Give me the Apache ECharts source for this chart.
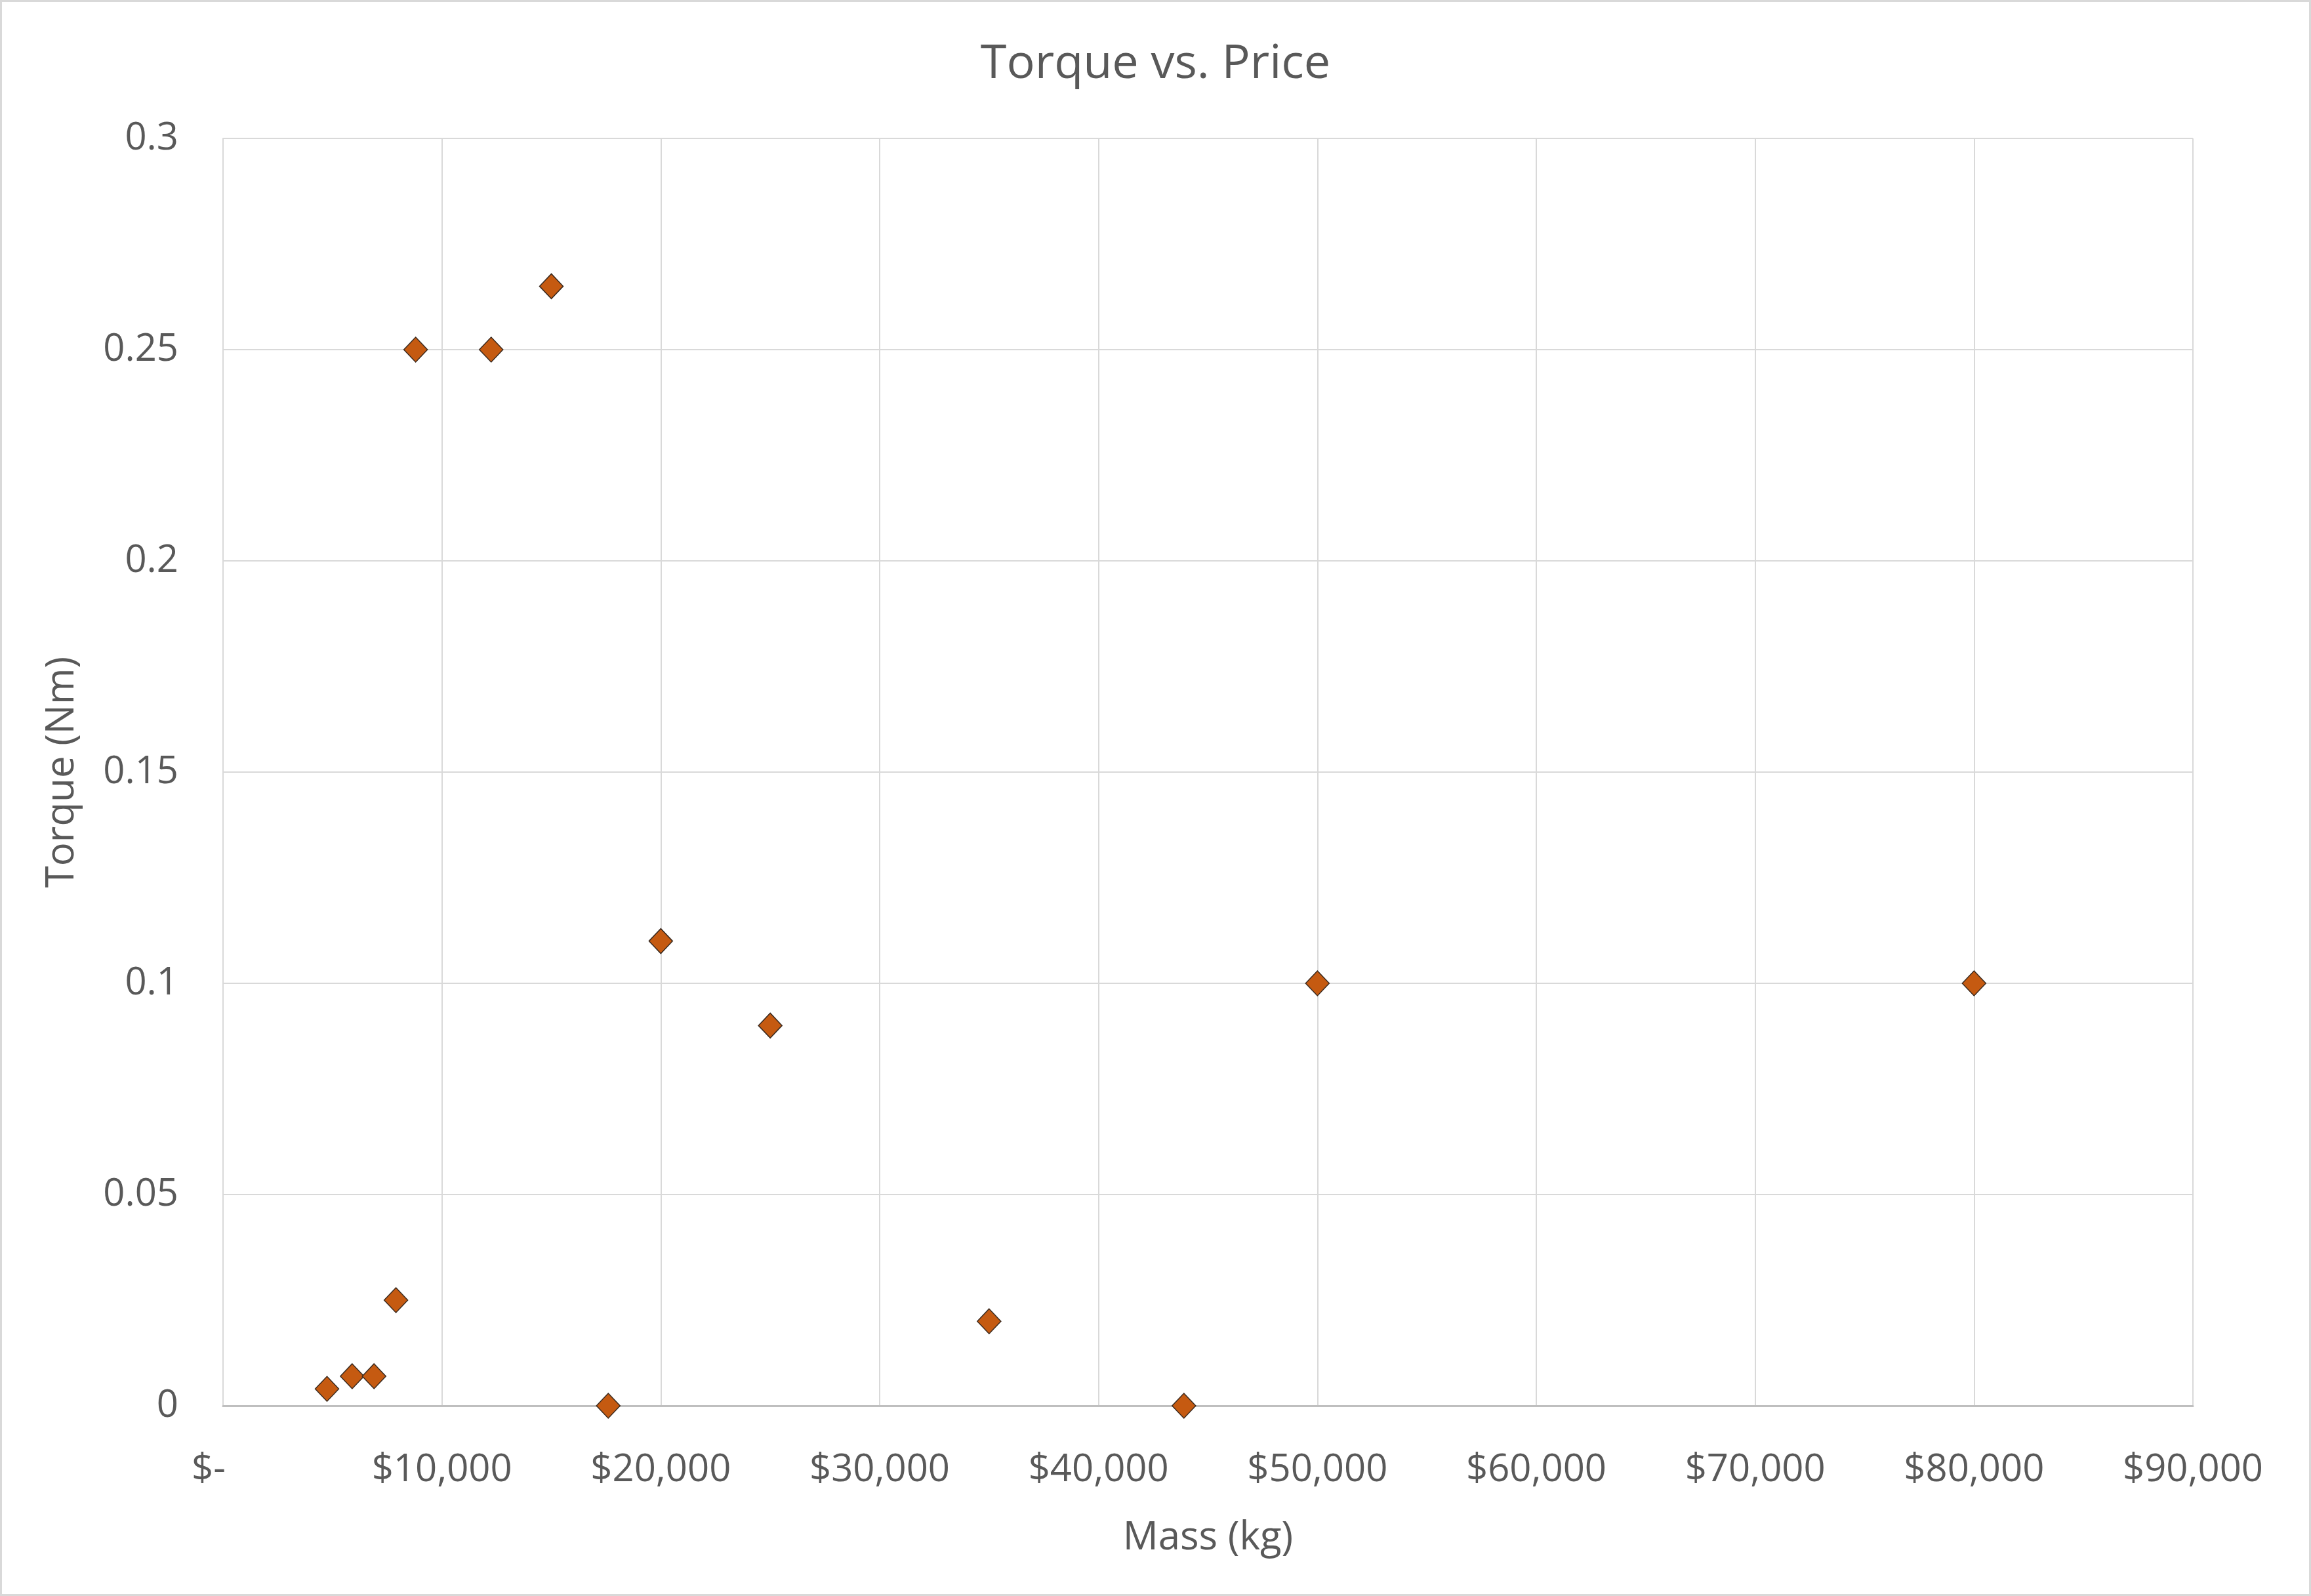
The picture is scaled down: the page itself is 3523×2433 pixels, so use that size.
<!DOCTYPE html>
<html>
<head>
<meta charset="utf-8">
<script src="https://cdn.jsdelivr.net/npm/echarts@6/dist/echarts.min.js"></script>
<style>
html,body{margin:0;padding:0;background:#fff;}
#chart{width:3523px;height:2433px;}
</style>
</head>
<body>
<div id="chart"></div>
<script>
const prices = [4750, 5900, 6900, 7900, 8800, 12250, 15000, 17600, 20000, 25000, 35000, 43900, 50000, 80000];
const torques = [0.004, 0.007, 0.007, 0.025, 0.25, 0.25, 0.265, 0, 0.11, 0.09, 0.02, 0, 0.1, 0.1];
const titleText = 'Torque vs. Price';
const xAxisName = 'Mass (kg)';
const yAxisName = 'Torque (Nm)';

const points = prices.map((p, i) => [p, torques[i]]);
const font = '"Open Sans", "Noto Sans", sans-serif';
const textColor = '#595959';

const chart = echarts.init(document.getElementById('chart'), null, {renderer: 'canvas'});
chart.setOption({
  backgroundColor: '#ffffff',
  animation: false,
  graphic: [{
    type: 'rect',
    shape: {x: 1.5, y: 1.5, width: 3520, height: 2430},
    style: {fill: 'none', stroke: '#d9d9d9', lineWidth: 3},
    silent: true
  }],
  title: {
    text: titleText,
    left: 'center',
    top: 57,
    textStyle: {fontFamily: font, fontSize: 72, fontWeight: 'normal', color: textColor}
  },
  grid: {left: 340, right: 180, top: 211, bottom: 290, containLabel: false},
  xAxis: {
    type: 'value',
    min: 0, max: 90000, interval: 10000,
    name: xAxisName,
    nameLocation: 'middle',
    nameGap: 172,
    nameTextStyle: {fontFamily: font, fontSize: 60, color: textColor},
    axisLine: {show: true, lineStyle: {color: '#bfbfbf', width: 3}},
    axisTick: {show: false},
    splitLine: {show: true, lineStyle: {color: '#d9d9d9', width: 2}},
    axisLabel: {
      fontFamily: font, fontSize: 58, color: textColor, margin: 69,
      formatter: v => v === 0 ? '{z|$-}' : '$' + v.toLocaleString('en-US'),
      rich: {z: {fontFamily: font, fontSize: 58, color: textColor, padding: [0, 44, 0, 0]}}
    }
  },
  yAxis: {
    type: 'value',
    min: 0, max: 0.3, interval: 0.05,
    name: yAxisName,
    nameLocation: 'middle',
    nameGap: 215,
    nameRotate: 90,
    nameTextStyle: {fontFamily: font, fontSize: 60, color: textColor},
    axisLine: {show: true, lineStyle: {color: '#d9d9d9', width: 2}},
    axisTick: {show: false},
    splitLine: {show: true, lineStyle: {color: '#d9d9d9', width: 2}},
    axisLabel: {
      fontFamily: font, fontSize: 58, color: textColor, margin: 68,
      formatter: v => String(parseFloat(v.toFixed(2)))
    }
  },
  series: [{
    type: 'scatter',
    data: points,
    symbol: 'diamond',
    symbolSize: [36, 38],
    itemStyle: {color: '#C55A11', opacity: 1, borderColor: '#3a2a1f', borderWidth: 1.5}
  }]
});
</script>
</body>
</html>
